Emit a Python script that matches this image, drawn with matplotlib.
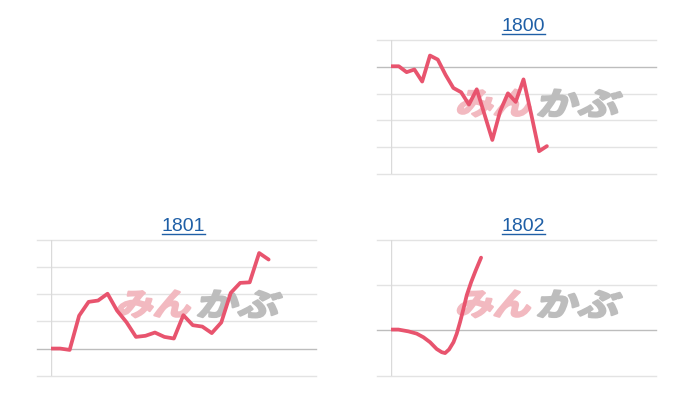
import matplotlib
matplotlib.use('Agg')
import matplotlib.pyplot as plt
from matplotlib.textpath import TextPath
from matplotlib.patches import PathPatch
from matplotlib.font_manager import FontProperties
from matplotlib.transforms import Affine2D, IdentityTransform
from matplotlib.lines import Line2D
import math

# ---- data (values in grid-step units relative to the base line) ----
codes = ['1800', '1801', '1802']

v1800 = [0.02, 0.02, -0.20, -0.10, -0.55, 0.42, 0.27, -0.30, -0.79, -0.95,
         -1.41, -0.84, -1.78, -2.73, -1.66, -0.99, -1.31, -0.47, -1.78, -3.15, -2.96]
x1800 = list(range(len(v1800)))

v1801 = [0.00, 0.00, -0.05, 1.21, 1.72, 1.77, 2.02, 1.40, 0.97, 0.43,
         0.47, 0.59, 0.43, 0.37, 1.23, 0.86, 0.81, 0.57, 0.96, 2.05,
         2.42, 2.44, 3.52, 3.28]
x1801 = list(range(len(v1801)))

x1802 = [0, 8.7, 20, 29.4, 37, 44.5, 52, 57.7, 61.5, 66, 71, 74.7, 78.5, 82.3, 86, 91, 96.2, 102.2]
v1802 = [0.02, 0.02, -0.02, -0.07, -0.15, -0.26, -0.41, -0.48, -0.50, -0.42,
         -0.26, -0.07, 0.19, 0.48, 0.78, 1.07, 1.33, 1.61]

ticks1800 = [-4, -3, -2, -1, 0, 1]
ticks1801 = [-1, 0, 1, 2, 3, 4]
ticks1802 = [-1, 0, 1, 2]

# ---- style ----
W, H = 700, 400
LINE = '#e8546e'
GRID = '#e3e3e3'
BASE = '#bdbdbd'
AXIS = '#dadada'
TITLE = '#1f5fa6'
PINK = '#f2b9c0'
GRAY = '#bdbdbd'

panels = [
    dict(code=codes[0], rect=(391, 40, 265, 134), x=x1800, y=v1800,
         xlim=(0, 34), ticks=ticks1800),
    dict(code=codes[1], rect=(50.7, 240, 265.3, 135.7), x=x1801, y=v1801,
         xlim=(0, 28), ticks=ticks1801),
    dict(code=codes[2], rect=(390.7, 240, 265.3, 135.7), x=x1802, y=v1802,
         xlim=(0, 300), ticks=ticks1802),
]

fig = plt.figure(figsize=(7, 4), dpi=100)
fp = FontProperties(family='Noto Sans CJK JP', weight='bold')


def add_word(ax, text, color, x0, x1, yc, hgt, skew=14):
    tp = TextPath((0, 0), text, size=100, prop=fp)
    ext = tp.get_extents()
    sx = (x1 - x0) / ext.width
    sy = hgt / ext.height
    sh = math.tan(math.radians(skew)) * hgt / 2
    tr = (Affine2D().translate(-ext.x0, -ext.y0).scale(sx, sy)
          .skew_deg(skew, 0).translate(x0 - sh, yc - hgt / 2))
    p = PathPatch(tp, transform=tr, facecolor=color, edgecolor=color,
                  lw=1.6, joinstyle='round', zorder=2)
    ax.add_artist(p)


titles = []
for pnl in panels:
    l, t, w, h = pnl['rect']
    ax = fig.add_axes([l / W, (H - t - h) / H, w / W, h / H])
    ticks = pnl['ticks']
    for tk in ticks:
        ax.axhline(tk, xmin=-14 / w, xmax=1, color=BASE if tk == 0 else GRID,
                   lw=1.0, clip_on=False, zorder=1)
    ax.axvline(0, color=AXIS, lw=1.0, zorder=1)
    ax.plot(pnl['x'], pnl['y'], color=LINE, lw=2.7, zorder=3,
            solid_joinstyle='round', solid_capstyle='round')
    ax.set_xlim(*pnl['xlim'])
    ax.set_ylim(min(ticks), max(ticks))
    ax.set_axis_off()

    # watermark
    cx = l + w / 2 + 17
    cy = H - (t + h / 2 - 4)
    add_word(ax, 'みん', PINK, cx - 81, cx - 9, cy, 27)
    add_word(ax, 'かぶ', GRAY, cx, cx + 80, cy, 27)

    # title
    tt = ax.text(0.5, 1 + 9 / h, pnl['code'], transform=ax.transAxes,
                 ha='center', va='baseline', fontsize=14,
                 family='Liberation Sans', color=TITLE)
    titles.append((tt, H - t + 9))

fig.canvas.draw()
renderer = fig.canvas.get_renderer()
for tt, base_y in titles:
    bb = tt.get_window_extent(renderer)
    ly = base_y - 2.5
    fig.add_artist(Line2D([bb.x0, bb.x1], [ly, ly], color=TITLE, lw=1.0,
                          transform=IdentityTransform()))

fig.savefig('out.png', dpi=100, facecolor='white')
